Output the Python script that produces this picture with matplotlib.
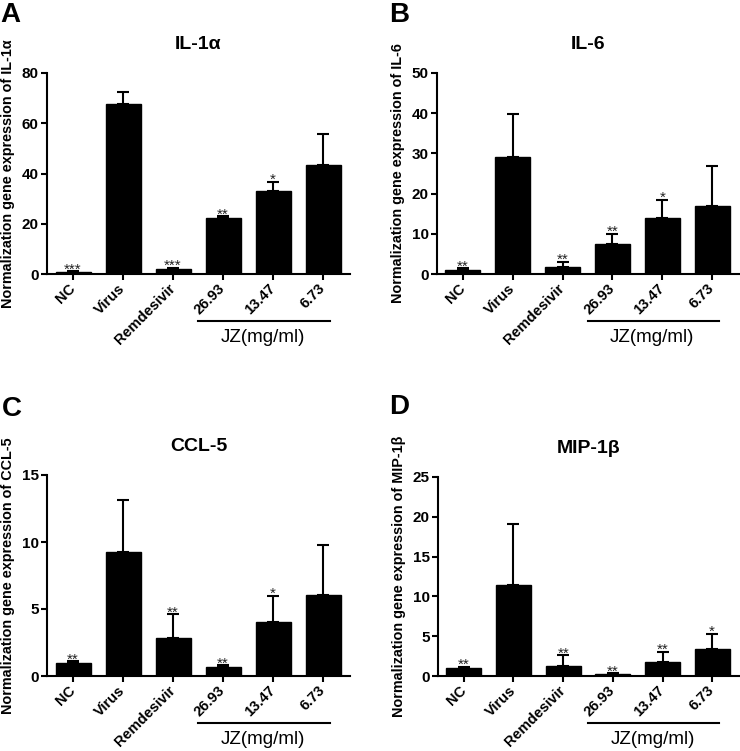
import numpy as np
import matplotlib
matplotlib.use('Agg')
import matplotlib.pyplot as plt

plt.rcParams['font.family'] = ['Liberation Sans', 'DejaVu Sans']

groups = ['NC', 'Virus', 'Remdesivir', '26.93', '13.47', '6.73']

# panel A - IL-1a
il1a_mean = [0.8, 67.8, 2.0, 22.2, 33.0, 43.2]
il1a_err = [0.3, 4.8, 0.4, 0.8, 3.6, 12.4]
il1a_sig = ['***', '', '***', '**', '*', '']

# panel B - IL-6
il6_mean = [1.1, 29.2, 1.8, 7.4, 13.9, 16.9]
il6_err = [0.3, 10.5, 1.2, 2.6, 4.6, 9.9]
il6_sig = ['**', '', '**', '**', '*', '']

# panel C - CCL-5
ccl5_mean = [1.0, 9.25, 2.8, 0.65, 4.05, 6.05]
ccl5_err = [0.1, 3.85, 1.8, 0.15, 1.95, 3.7]
ccl5_sig = ['**', '', '**', '**', '*', '']

# panel D - MIP-1b
mip_mean = [1.05, 11.4, 1.2, 0.25, 1.7, 3.35]
mip_err = [0.1, 7.7, 1.4, 0.1, 1.3, 1.95]
mip_sig = ['**', '', '**', '**', '**', '*']

panels = [
    ('A', 'IL-1α', il1a_mean, il1a_err, il1a_sig, 80, 20),
    ('B', 'IL-6', il6_mean, il6_err, il6_sig, 50, 10),
    ('C', 'CCL-5', ccl5_mean, ccl5_err, ccl5_sig, 15, 5),
    ('D', 'MIP-1β', mip_mean, mip_err, mip_sig, 25, 5),
]

W, H = 740, 751
fig = plt.figure(figsize=(W / 100, H / 100), dpi=100)

# axes boxes in pixels: left, top, right, bottom
boxes = [(47, 73, 350, 274), (437, 73, 739, 274),
         (47, 475, 350, 676), (438, 477, 739, 676)]
letter_pos = [(0, 2), (389, 2), (2, 396), (389, 394)]

x = np.arange(len(groups))
for (letter, title, mean, err, sig, ytop, ystep), (l, t, r, b), (lx, ly) in zip(panels, boxes, letter_pos):
    ax = fig.add_axes([l / W, 1 - b / H, (r - l) / W, (b - t) / H])
    ax.bar(x, mean, width=0.7, color='black', edgecolor='black')
    ax.errorbar(x, mean, yerr=[np.zeros(len(err)), err], fmt='none',
                ecolor='black', elinewidth=1.5, capsize=4.5, capthick=1.5)
    for xi, m, e, s in zip(x, mean, err, sig):
        if s:
            ax.annotate(s, (xi, m + e), xytext=(0, -1.5), textcoords='offset points',
                        ha='center', va='baseline', fontsize=11, color='#222222')
    ax.set_xlim(-0.52, 5.54)
    ax.set_ylim(0, ytop)
    ax.set_yticks(np.arange(0, ytop + 0.1, ystep))
    ax.set_xticks(x)
    ax.set_xticklabels(groups, rotation=45, ha='right', va='center',
                       rotation_mode='anchor', fontweight='bold', fontsize=10.5)
    for lab in ax.get_yticklabels():
        lab.set_fontweight('bold')
        lab.set_fontsize(11)
    ax.spines['top'].set_visible(False)
    ax.spines['right'].set_visible(False)
    ax.spines['left'].set_linewidth(1.5)
    ax.spines['bottom'].set_linewidth(1.5)
    ax.tick_params(axis='both', direction='out', length=4, width=1.5, pad=2)
    ax.tick_params(axis='x', pad=5)
    ax.set_ylabel('Normalization gene expression of ' + title,
                  fontweight='bold', fontsize=10.4)
    ax.yaxis.set_label_coords(-0.105, 0.5)
    ax.set_title(title, fontweight='bold', fontsize=14, pad=17)
    # JZ bracket
    tr = ax.get_xaxis_transform()
    ax.plot([2.5, 5.14], [-0.234, -0.234], color='black', lw=1.5,
            transform=tr, clip_on=False)
    ax.text(3.8, -0.318, 'JZ(mg/ml)', transform=tr, ha='center', va='center',
            fontsize=13.5)
    fig.text(lx / W, 1 - ly / H, letter, fontsize=20, fontweight='bold',
             ha='left', va='top')

fig.savefig('out.png', dpi=100)
